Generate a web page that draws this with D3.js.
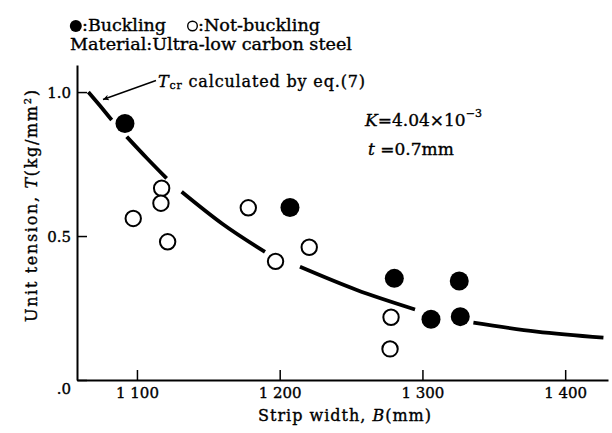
<!DOCTYPE html>
<html>
<head>
<meta charset="utf-8">
<script src="https://cdn.jsdelivr.net/npm/d3@7"></script>
<style>
  html, body { margin: 0; padding: 0; background: #fff; }
  svg { display: block; }
  text { font-family: "DejaVu Serif", "Liberation Serif", serif; fill: #000; stroke: #000; stroke-width: 0.35px; }
</style>
</head>
<body>
<svg id="chart" width="612" height="433"></svg>
<script>
// ---- data ----
const xTickValues = [1100, 1200, 1300, 1400];
const xTickLabels = ["1 100", "1 200", "1 300", "1 400"];
const yTickValues = [0, 0.5, 1.0];
const yTickLabels = [".0", "0.5", "1.0"];

// Buckling (filled) points
const bucklingB = [1091.6, 1207.2, 1280.3, 1325.8, 1306.0, 1326.5];
const bucklingT = [0.891, 0.599, 0.353, 0.344, 0.211, 0.220];

// Not-buckling (open) points
const notBucklingB = [1097.4, 1117.3, 1116.8, 1121.5, 1178.0, 1197.1, 1220.7, 1278.0, 1277.3];
const notBucklingT = [0.561, 0.666, 0.614, 0.480, 0.598, 0.412, 0.461, 0.218, 0.108];

// Tcr curve (eq. 7), drawn as broken segments
const curveSegB = [
  [1066.0, 1074.0, 1082.3],
  [1092.8, 1107.0, 1120.8],
  [1131.3, 1160.0, 1189.7],
  [1214.2, 1254.0, 1294.8],
  [1335.7, 1380.0, 1426.8]
];
const curveSegT = [
  [1.000, 0.953, 0.903],
  [0.845, 0.770, 0.700],
  [0.654, 0.542, 0.445],
  [0.393, 0.3125, 0.245],
  [0.199, 0.168, 0.147]
];

const xDomain = [1058, 1430];
const yDomain = [0, 1.094];

// ---- drawing ----
const svg = d3.select("#chart");
const x = d3.scaleLinear().domain(xDomain).range([77, 608]);
const y = d3.scaleLinear().domain(yDomain).range([380, 65]);

// axes
const xAxis = d3.axisBottom(x)
  .tickValues(xTickValues)
  .tickFormat((d, i) => xTickLabels[i])
  .tickSizeInner(-10).tickSizeOuter(0).tickPadding(8);
const gx = svg.append("g").attr("transform", "translate(0,380)").call(xAxis);
gx.select(".domain").attr("stroke", "#000").attr("stroke-width", 2);
gx.selectAll(".tick line").attr("stroke", "#000").attr("stroke-width", 1.5);
gx.selectAll(".tick text")
  .attr("font-family", "DejaVu Serif").attr("font-size", 15)
  .attr("y", 18).attr("dy", 0).attr("fill", "#000");

const yAxis = d3.axisLeft(y)
  .tickValues(yTickValues)
  .tickFormat((d, i) => yTickLabels[i])
  .tickSizeInner(-10).tickSizeOuter(0).tickPadding(6);
const gy = svg.append("g").attr("transform", "translate(77,0)").call(yAxis);
gy.select(".domain").attr("stroke", "#000").attr("stroke-width", 2);
gy.selectAll(".tick line").attr("stroke", "#000").attr("stroke-width", 1.5);
gy.selectAll(".tick text")
  .attr("font-family", "DejaVu Serif").attr("font-size", 15)
  .attr("fill", "#000")
  .attr("dy", (d) => d === 0 ? "0.9em" : "0.36em");

// curve segments
const line = d3.line().x(d => x(d[0])).y(d => y(d[1])).curve(d3.curveMonotoneX);
curveSegB.forEach((bs, i) => {
  const pts = bs.map((b, j) => [b, curveSegT[i][j]]);
  svg.append("path").attr("d", line(pts))
    .attr("fill", "none").attr("stroke", "#000")
    .attr("stroke-width", 3.8).attr("stroke-linecap", "butt");
});

// markers
svg.append("g").selectAll("circle.nb")
  .data(notBucklingB.map((b, i) => [b, notBucklingT[i]]))
  .join("circle")
  .attr("cx", d => x(d[0])).attr("cy", d => y(d[1]))
  .attr("r", 7.7).attr("fill", "#fff").attr("stroke", "#000").attr("stroke-width", 2);

svg.append("g").selectAll("circle.b")
  .data(bucklingB.map((b, i) => [b, bucklingT[i]]))
  .join("circle")
  .attr("cx", d => x(d[0])).attr("cy", d => y(d[1]))
  .attr("r", 9.5).attr("fill", "#000");

// legend
svg.append("circle").attr("cx", 75.8).attr("cy", 26).attr("r", 6).attr("fill", "#000");
svg.append("text").attr("x", 82).attr("y", 31).attr("font-size", 16)
  .attr("textLength", 84).attr("lengthAdjust", "spacingAndGlyphs").text(":Buckling");
svg.append("circle").attr("cx", 192.5).attr("cy", 26).attr("r", 4.8)
  .attr("fill", "none").attr("stroke", "#000").attr("stroke-width", 1.4);
svg.append("text").attr("x", 198).attr("y", 31).attr("font-size", 16)
  .attr("textLength", 122).attr("lengthAdjust", "spacingAndGlyphs").text(":Not-buckling");
svg.append("text").attr("x", 70).attr("y", 49.5).attr("font-size", 16)
  .attr("textLength", 282).attr("lengthAdjust", "spacingAndGlyphs").text("Material:Ultra-low carbon steel");

// Tcr annotation
const ann = svg.append("text").attr("x", 158).attr("y", 87).attr("font-size", 16)
  .attr("textLength", 207).attr("lengthAdjust", "spacing");
ann.append("tspan").attr("font-style", "italic").text("T");
ann.append("tspan").attr("font-size", 11).attr("dy", 2).text("cr");
ann.append("tspan").attr("dy", -2).text(" calculated by eq.(7)");

const defs = svg.append("defs");
defs.append("marker").attr("id", "arr").attr("viewBox", "0 0 10 10")
  .attr("refX", 10).attr("refY", 5).attr("markerWidth", 10).attr("markerHeight", 6)
  .attr("markerUnits", "userSpaceOnUse").attr("orient", "auto")
  .append("path").attr("d", "M0,0 L10,5 L0,10 L3,5 Z").attr("fill", "#000");
svg.append("line").attr("x1", 156).attr("y1", 80.5).attr("x2", 103).attr("y2", 99.5)
  .attr("stroke", "#000").attr("stroke-width", 1.4).attr("marker-end", "url(#arr)");

// K, t annotation
const kt = svg.append("text").attr("x", 365).attr("y", 126).attr("font-size", 17);
kt.append("tspan").attr("font-style", "italic").text("K");
kt.append("tspan").text("=4.04×10");
kt.append("tspan").attr("font-size", 11).attr("dy", -9).text("−3");
const tt = svg.append("text").attr("x", 368).attr("y", 155).attr("font-size", 17);
tt.append("tspan").attr("font-style", "italic").text("t");
tt.append("tspan").text(" =0.7mm");

// axis titles
const xt = svg.append("text").attr("x", 344.5).attr("y", 421).attr("font-size", 16)
  .attr("text-anchor", "middle").attr("textLength", 173).attr("lengthAdjust", "spacing");
xt.append("tspan").text("Strip width, ");
xt.append("tspan").attr("font-style", "italic").text("B");
xt.append("tspan").text("(mm)");

const yt = svg.append("text").attr("transform", "translate(37,206) rotate(-90)")
  .attr("font-size", 16).attr("text-anchor", "middle")
  .attr("textLength", 232).attr("lengthAdjust", "spacing");
yt.append("tspan").text("Unit tension, ");
yt.append("tspan").attr("font-style", "italic").text("T");
yt.append("tspan").text("(kg/mm");
yt.append("tspan").attr("font-size", 10).attr("dy", -6).text("2");
yt.append("tspan").attr("dy", 6).text(")");
</script>
</body>
</html>
